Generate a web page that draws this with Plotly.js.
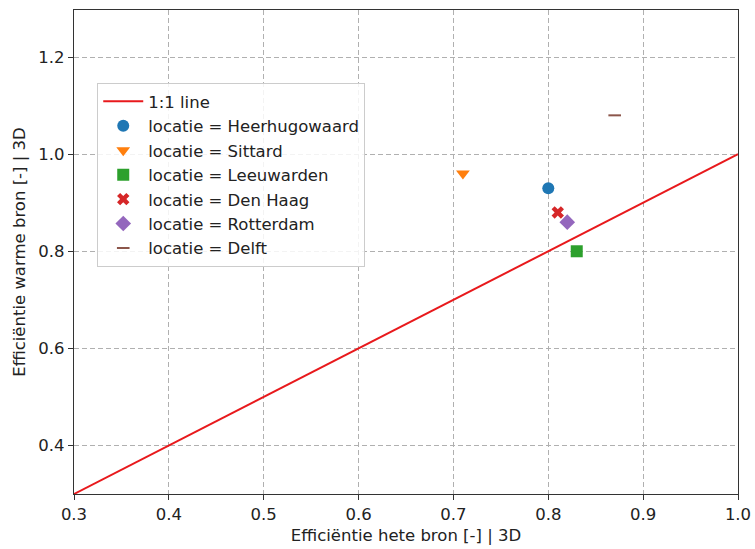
<!DOCTYPE html>
<html>
<head>
<meta charset="utf-8">
<script src="https://cdn.plot.ly/plotly-3.0.1.min.js"></script>
<style>html,body{margin:0;padding:0;background:#fff;}#chart{width:755px;height:549px;}</style>
</head>
<body>
<div id="chart"></div>
<script>
const locaties = ["Heerhugowaard", "Sittard", "Leeuwarden", "Den Haag", "Rotterdam", "Delft"];
const effHeet = [0.80, 0.71, 0.83, 0.81, 0.82, 0.87];
const effWarm = [0.93, 0.96, 0.80, 0.88, 0.86, 1.08];
const colors = ["#1f77b4", "#ff7f0e", "#2ca02c", "#d62728", "#9467bd", "#8c564b"];
const symbols = ["circle", "triangle-down", "square", "x", "diamond", "line-ew"];
const lineX = [0.3, 1.0];
const lineY = [0.3, 1.0];
const xTicks = [0.3, 0.4, 0.5, 0.6, 0.7, 0.8, 0.9, 1.0];
const yTicks = [0.4, 0.6, 0.8, 1.0, 1.2];

const font = "DejaVu Sans, sans-serif";
const fs = 16.5;
const traces = [{
  x: lineX, y: lineY, mode: "lines", name: "1:1 line",
  line: {color: "#e8191c", width: 2}
}];
locaties.forEach((loc, i) => {
  const isLine = symbols[i] === "line-ew";
  traces.push({
    x: [effHeet[i]], y: [effWarm[i]], mode: "markers",
    name: "locatie = " + loc,
    marker: {
      color: colors[i], symbol: symbols[i],
      size: isLine ? 9 : (symbols[i] === "x" ? 11 : 12),
      line: isLine ? {color: colors[i], width: 2} : {width: 0}
    }
  });
});

const axisCommon = {
  showline: true, mirror: true, linecolor: "#333", linewidth: 1.2,
  ticks: "outside", ticklen: 5, tickcolor: "#333", tickwidth: 1,
  showgrid: true, gridcolor: "#b0b0b0", griddash: "5px,3px", gridwidth: 1,
  zeroline: false, tickfont: {family: font, size: fs, color: "#222"}
};

const layout = {
  width: 755, height: 549,
  margin: {l: 74, r: 17, t: 10, b: 55},
  paper_bgcolor: "#fff", plot_bgcolor: "#fff",
  showlegend: true,
  font: {family: font, color: "#222"},
  xaxis: Object.assign({}, axisCommon, {
    range: [0.3, 1.0], tickvals: xTicks, ticktext: xTicks.map(v => v.toFixed(1)),
    title: {text: "Efficiëntie hete bron [-] | 3D", font: {family: font, size: fs, color: "#222"}, standoff: 6}
  }),
  yaxis: Object.assign({}, axisCommon, {
    range: [0.3, 1.297], tickvals: yTicks, ticktext: yTicks.map(v => v.toFixed(1)),
    title: {text: "Efficiëntie warme bron [-] | 3D", font: {family: font, size: fs, color: "#222"}, standoff: 8}
  }),
  legend: {
    x: 0.035, y: 0.849, xanchor: "left", yanchor: "top",
    bgcolor: "rgba(255,255,255,0.85)", bordercolor: "#cccccc", borderwidth: 1,
    font: {family: font, size: fs, color: "#222"},
    tracegroupgap: 0, itemwidth: 40
  }
};

Plotly.newPlot("chart", traces, layout, {displayModeBar: false, staticPlot: true});
</script>
</body>
</html>
